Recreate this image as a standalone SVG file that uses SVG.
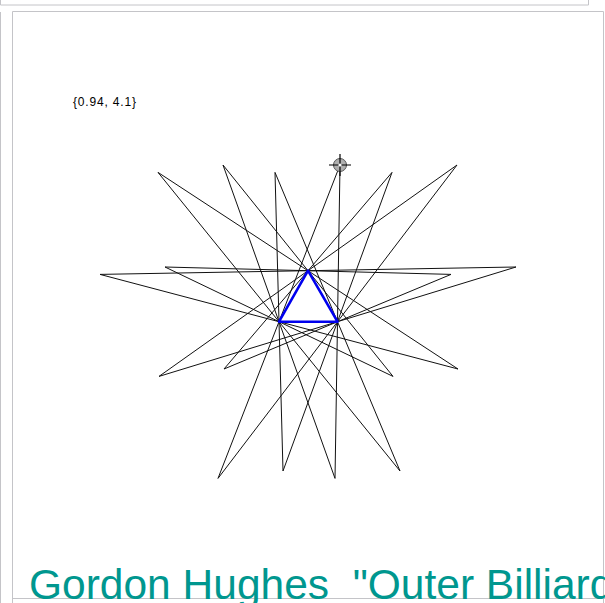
<svg xmlns="http://www.w3.org/2000/svg" width="605" height="603" viewBox="0 0 605 603">
<style>
.frame{fill:none;stroke:#c4c4c8;stroke-width:1}
.orbit line{stroke:#111;stroke-width:1;fill:none}
.tri{fill:none;stroke:#0000ee;stroke-width:2.6;stroke-linejoin:round}
.lbl{font-family:"Liberation Sans",Arial,sans-serif;font-size:12px;fill:#000}
.title{font-family:"Liberation Sans",Arial,sans-serif;font-size:42.5px;fill:#00978f;white-space:pre}
</style>
<rect width="605" height="603" fill="#fff"/>
<g id="frame">
<path class="frame" d="M0.5,0 V5 H588.5 V0" stroke-width="1.5"/>
<path class="frame" d="M0.5,12 V603"/>
<path class="frame" d="M12.5,603 V11.5 H603.5 V603"/>
<path class="frame" d="M12.5,598.5 H605"/>
</g>
<g id="orbit" class="orbit">
<line x1="340" y1="165" x2="335" y2="478.4"/>
<line x1="335" y1="478.4" x2="223" y2="165"/>
<line x1="223" y1="165" x2="393" y2="376.4"/>
<line x1="393" y1="376.4" x2="165" y2="267"/>
<line x1="165" y1="267" x2="451" y2="274.4"/>
<line x1="451" y1="274.4" x2="224" y2="369"/>
<line x1="224" y1="369" x2="392" y2="172.4"/>
<line x1="392" y1="172.4" x2="283" y2="471"/>
<line x1="283" y1="471" x2="275" y2="172.4"/>
<line x1="275" y1="172.4" x2="400" y2="471"/>
<line x1="400" y1="471" x2="158" y2="172.4"/>
<line x1="158" y1="172.4" x2="458" y2="369"/>
<line x1="458" y1="369" x2="100" y2="274.4"/>
<line x1="100" y1="274.4" x2="516" y2="267"/>
<line x1="516" y1="267" x2="159" y2="376.4"/>
<line x1="159" y1="376.4" x2="457" y2="165"/>
<line x1="457" y1="165" x2="218" y2="478.4"/>
<line x1="218" y1="478.4" x2="340" y2="165"/>
</g>
<g id="triangle">
<polygon class="tri" points="308,270.7 279,321.7 337.5,321.7"/>
</g>
<g id="locator">
<circle cx="340" cy="165" r="6.5" fill="#b0b0b0" stroke="#555" stroke-width="1"/>
<path d="M329,165 H351 M340,154 V176" stroke="#000" stroke-width="1.2"/>
<circle cx="340" cy="165" r="1.6" fill="#fff"/>
</g>
<g id="labels">
<text class="lbl" x="73" y="106" textLength="63" lengthAdjust="spacing">{0.94, 4.1}</text>
<text class="title" x="29" y="598.5" xml:space="preserve">Gordon Hughes  "Outer Billiard</text>
</g>
</svg>
